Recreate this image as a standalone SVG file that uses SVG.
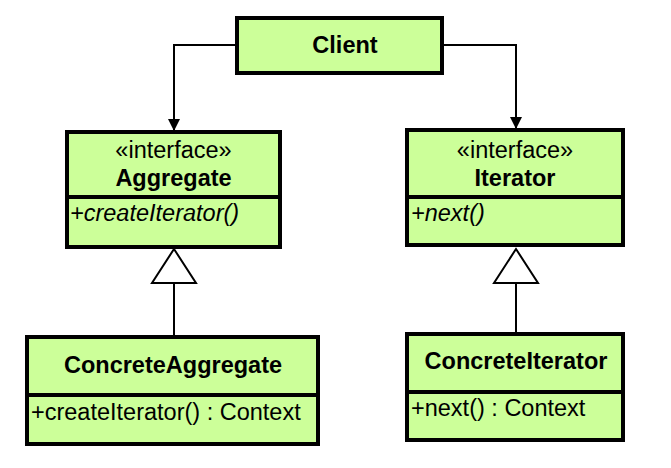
<svg xmlns="http://www.w3.org/2000/svg" width="671" height="468" viewBox="0 0 671 468">
<defs>
<marker id="arr" viewBox="0 0 12 12" refX="12" refY="6" markerWidth="12" markerHeight="12" markerUnits="userSpaceOnUse" orient="auto">
<path d="M0,0 L12,6 L0,12 z" fill="#000"/>
</marker>
<style>
.box{fill:#ccff99;stroke:#000;stroke-width:4}
.div{stroke:#000;stroke-width:4}
.t{font-family:"Liberation Sans",Arial,sans-serif;font-size:23.5px;fill:#000}
.b{font-weight:bold}
.i{font-style:italic}
.c{text-anchor:middle}
.ln{fill:none;stroke:#000;stroke-width:2}
.tri{fill:#fff;stroke:#000;stroke-width:2}
</style>
</defs>
<rect width="671" height="468" fill="#fff"/>
<g id="connectors">
<path class="ln" d="M237,45 H174 V131" marker-end="url(#arr)"/>
<path class="ln" d="M442,45 H516 V129" marker-end="url(#arr)"/>
<line class="ln" x1="174" y1="283" x2="174" y2="337"/>
<polygon class="tri" points="174,249 152,283 196,283"/>
<line class="ln" x1="516" y1="283" x2="516" y2="334"/>
<polygon class="tri" points="516,249 494,283 538,283"/>
</g>
<g id="client">
<rect class="box" x="237" y="18" width="205" height="55"/>
<text class="t b c" x="345" y="53">Client</text>
</g>
<g id="aggregate">
<rect class="box" x="67" y="132" width="213" height="115"/>
<line class="div" x1="67" y1="197" x2="280" y2="197"/>
<text class="t c" x="173.5" y="158">«interface»</text>
<text class="t b c" x="173.5" y="186">Aggregate</text>
<text class="t i" x="70" y="221">+createIterator()</text>
</g>
<g id="iterator">
<rect class="box" x="407" y="130" width="216" height="115"/>
<line class="div" x1="407" y1="197" x2="623" y2="197"/>
<text class="t c" x="515" y="158">«interface»</text>
<text class="t b c" x="515" y="186">Iterator</text>
<text class="t i" x="411" y="221">+next()</text>
</g>
<g id="concreteaggregate">
<rect class="box" x="27" y="337" width="291" height="107"/>
<line class="div" x1="27" y1="395" x2="318" y2="395"/>
<text class="t b c" x="173" y="373">ConcreteAggregate</text>
<text class="t" x="31" y="420">+createIterator() : Context</text>
</g>
<g id="concreteiterator">
<rect class="box" x="407" y="334" width="216" height="106"/>
<line class="div" x1="407" y1="392" x2="623" y2="392"/>
<text class="t b c" x="516" y="369">ConcreteIterator</text>
<text class="t" x="411" y="416">+next() : Context</text>
</g>
</svg>
